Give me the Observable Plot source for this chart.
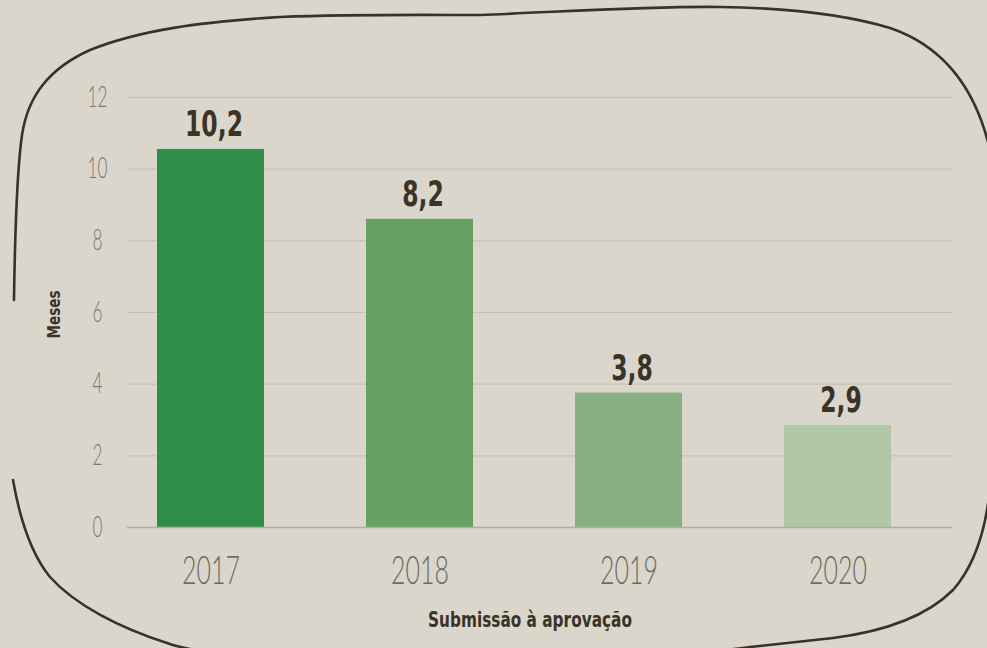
<!DOCTYPE html>
<html>
<head>
<meta charset="utf-8">
<script src="https://cdn.jsdelivr.net/npm/d3@7"></script>
<script src="https://cdn.jsdelivr.net/npm/@observablehq/plot@0.6"></script>
<style>
  html, body { margin: 0; padding: 0; background: #dad6cc; }
  #wrap { position: relative; width: 987px; height: 648px; overflow: hidden; }
  #frame { position: absolute; left: 0; top: 0; pointer-events: none; }
</style>
</head>
<body>
<div id="wrap"></div>
<script>
// ---- data ----
const years = ["2017", "2018", "2019", "2020"];
const barHeights = [10.55, 8.6, 3.75, 2.85];           // bar heights as drawn (meses)
const valueLabels = ["10,2", "8,2", "3,8", "2,9"];      // printed value labels
const barColors = ["#2f8f49", "#66a063", "#88b082", "#b0c8a6"];
const yTicks = [0, 2, 4, 6, 8, 10, 12];
const xTitle = "Submissão à aprovação";
const yTitle = "Meses";

const data = years.map((year, i) => ({
  year, value: barHeights[i], label: valueLabels[i], color: barColors[i]
}));

const condensed = "'DejaVu Sans Condensed', 'Liberation Sans Narrow', 'DejaVu Sans', sans-serif";
const thin = "Lato, 'Open Sans', sans-serif";

const chart = Plot.plot({
  width: 987,
  height: 648,
  marginLeft: 127,
  marginRight: 35,
  marginTop: 97,
  marginBottom: 121,
  style: { background: "transparent", overflow: "visible" },
  x: { domain: years, paddingInner: 0.49, paddingOuter: 0.215, align: 0.333 },
  y: { domain: [0, 12] },
  color: { type: "identity" },
  marks: [
    Plot.gridY(yTicks, { stroke: "#c6c1b5", strokeOpacity: 1, strokeWidth: 1.2 }),
    Plot.barY(data, { x: "year", y: "value", fill: "color" }),
    Plot.ruleY([0], { stroke: "#b3ad9f", strokeWidth: 1.5 }),
    Plot.text(data, {
      x: "year", y: "value", text: "label", dy: -13, lineAnchor: "bottom", dx: 3,
      fontSize: 35, fontWeight: "bold", fill: "#3b3326", fontFamily: condensed,
      ariaLabel: () => "value-label"
    }),
    Plot.axisY({
      ticks: yTicks, tickSize: 0, tickPadding: 30, textAnchor: "middle", label: null,
      fontSize: 29, fontWeight: 300, fill: "#7d7970", fontFamily: thin
    }),
    Plot.axisX({
      tickSize: 0, tickPadding: 29, label: null,
      fontSize: 39, fontWeight: 300, fill: "#6f6b63", fontFamily: thin
    }),
    Plot.text([xTitle], {
      frameAnchor: "bottom", dy: 99, dx: -10, lineAnchor: "bottom", textAnchor: "middle",
      fontSize: 21, fontWeight: "bold", fill: "#3a3327", fontFamily: condensed,
      ariaLabel: () => "x-title"
    }),
    Plot.text([yTitle], {
      frameAnchor: "left", dx: -73, dy: 2, rotate: -90, textAnchor: "middle",
      fontSize: 17, fontWeight: "bold", fill: "#3a3327", fontFamily: condensed,
      ariaLabel: () => "y-title"
    })
  ]
});

const wrap = document.getElementById("wrap");
wrap.appendChild(chart);

// horizontal condensing of glyphs to imitate the narrow typeface of the original
function squeeze(texts, refText, targetWidth) {
  if (!texts.length || !refText) return;
  const w = refText.getComputedTextLength();
  const s = w > 0 ? targetWidth / w : 1;
  texts.forEach(t => {
    const tr = t.getAttribute("transform");
    if (tr) {
      t.setAttribute("transform", tr + ` scale(${s},1)`);
    } else {
      const x = +t.getAttribute("x") || 0;
      t.setAttribute("transform", `translate(${x},0) scale(${s},1) translate(${-x},0)`);
    }
  });
}
function group(sel) { return [...chart.querySelectorAll(sel)]; }
const xt = group('g[aria-label="x-axis tick label"] text');
squeeze(xt, xt[0], 58);
const yt = group('g[aria-label="y-axis tick label"] text');
squeeze(yt, yt.find(t => t.textContent === "12"), 20);
const vl = group('text[aria-label="value-label"]');
squeeze(vl, vl[0], 58);
const xtt = group('text[aria-label="x-title"]');
squeeze(xtt, xtt[0], 204);
const ytt = group('text[aria-label="y-title"]');
squeeze(ytt, ytt[0], 48);

// hand-drawn rounded frame (decoration)
const ns = "http://www.w3.org/2000/svg";
const deco = document.createElementNS(ns, "svg");
deco.setAttribute("id", "frame");
deco.setAttribute("width", 987);
deco.setAttribute("height", 648);
const p = document.createElementNS(ns, "path");
p.setAttribute("d",
  "M14,300 C15,230 17,170 22,135 C28,95 50,68 90,50 C140,30 200,22 280,17 " +
  "C360,14 430,15 480,15 C560,12 650,6 720,7 C790,8 850,16 890,28 " +
  "C940,45 975,85 990,150 L1002,250 L1002,400 L990,487 " +
  "C986,530 975,565 953,590 C925,618 880,632 833,638 L750,647 " +
  "C650,660 550,665 450,665 C300,665 200,655 167,643 " +
  "C120,628 75,605 50,577 C32,555 20,520 13,480");
p.setAttribute("fill", "none");
p.setAttribute("stroke", "#3a3226");
p.setAttribute("stroke-width", "2.6");
p.setAttribute("stroke-linecap", "round");
deco.appendChild(p);
wrap.appendChild(deco);
</script>
</body>
</html>
